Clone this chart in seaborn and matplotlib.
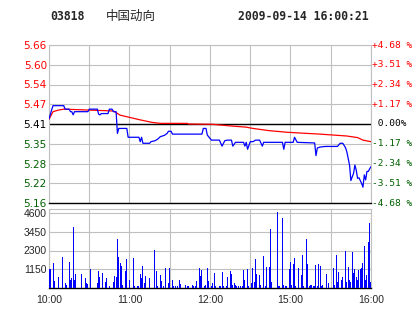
import matplotlib
matplotlib.use("Agg")
import matplotlib.pyplot as plt
import seaborn as sns
import numpy as np
import pandas as pd

# ---------------- data ----------------
stock_code = "03818"
stock_name = "中国动向"
timestamp = "2009-09-14 16:00:21"

prev_close = 5.41
price_labels = ["5.16", "5.22", "5.28", "5.35", "5.41", "5.47", "5.54", "5.60", "5.66"]
pct_labels = ["-4.68 %", "-3.51 %", "-2.34 %", "-1.17 %", " 0.00%",
              "+1.17 %", "+2.34 %", "+3.51 %", "+4.68 %"]
vol_ticks = [1150, 2300, 3450, 4600]
time_ticks = [0, 60, 120, 180, 240]
time_labels = ["10:00", "11:00", "12:00", "15:00", "16:00"]

price_t = [0, 2, 3, 11, 12, 15, 16, 17, 18, 19, 29, 30, 36, 37, 38, 39, 44, 45, 47, 48,
           50, 51, 52, 58, 59, 67, 68, 69, 70, 75, 76, 79, 81, 83, 86, 88, 89, 91, 92, 114,
           115, 117, 118, 121, 127, 129, 131, 133, 136, 137, 139, 145, 146, 147, 148, 150, 152, 154, 157, 159,
           160, 174, 175, 176, 182, 183, 185, 198, 199, 200, 202, 206, 215, 217, 219, 221, 222, 223, 224, 225,
           227, 228, 229, 230, 231, 233, 234, 235, 236, 237, 238, 239, 240]
price_v = [5.426, 5.455, 5.468, 5.468, 5.457, 5.457, 5.449, 5.449, 5.439, 5.449, 5.449, 5.457, 5.457, 5.441, 5.439, 5.443, 5.443, 5.457, 5.457, 5.449,
           5.449, 5.380, 5.396, 5.396, 5.368, 5.368, 5.354, 5.368, 5.349, 5.349, 5.354, 5.357, 5.362, 5.370, 5.374, 5.380, 5.387, 5.387, 5.378, 5.378,
           5.396, 5.396, 5.375, 5.359, 5.359, 5.340, 5.357, 5.359, 5.359, 5.340, 5.352, 5.352, 5.340, 5.352, 5.330, 5.354, 5.354, 5.359, 5.359, 5.340,
           5.352, 5.352, 5.330, 5.352, 5.352, 5.368, 5.352, 5.350, 5.310, 5.334, 5.337, 5.339, 5.339, 5.349, 5.349, 5.335, 5.322, 5.301, 5.280, 5.231,
           5.254, 5.280, 5.264, 5.238, 5.240, 5.222, 5.210, 5.249, 5.233, 5.260, 5.260, 5.268, 5.275]

avg_t = [0, 3, 7, 11, 43, 48, 50, 53, 58, 68, 77, 83, 103, 104, 122, 135, 147, 152, 164, 177,
         189, 202, 212, 222, 230, 234, 240]
avg_v = [5.425, 5.449, 5.454, 5.457, 5.452, 5.451, 5.446, 5.438, 5.433, 5.423, 5.415, 5.412, 5.412, 5.410, 5.409, 5.404, 5.400, 5.396, 5.389, 5.384,
         5.381, 5.378, 5.375, 5.372, 5.367, 5.359, 5.354]

vol_t = [0, 1, 3, 4, 7, 10, 12, 13, 15, 16, 17, 18, 19, 20, 24, 27, 28, 29, 31, 36,
         37, 38, 40, 42, 43, 45, 48, 49, 50, 51, 52, 53, 54, 55, 57, 58, 60, 63, 64, 66,
         67, 68, 69, 70, 71, 72, 75, 79, 80, 81, 83, 84, 85, 87, 89, 90, 92, 93, 94, 96,
         97, 98, 102, 103, 104, 107, 108, 109, 110, 112, 113, 114, 116, 117, 118, 119, 121, 122, 123, 124,
         127, 128, 129, 130, 132, 133, 135, 136, 137, 138, 139, 140, 141, 143, 144, 145, 146, 148, 149, 151,
         152, 153, 154, 155, 157, 158, 160, 161, 162, 164, 165, 166, 170, 171, 172, 174, 175, 176, 177, 179,
         180, 181, 182, 183, 184, 186, 188, 189, 190, 192, 193, 194, 195, 196, 197, 198, 199, 200, 201, 202,
         203, 204, 207, 208, 212, 213, 214, 215, 216, 218, 219, 221, 222, 223, 224, 225, 226, 227, 228, 229,
         230, 231, 232, 233, 234, 235, 236, 237, 238, 239, 240]
vol_v = [1190, 1190, 1550, 450, 700, 1920, 330, 160, 1620, 510, 630, 3760, 510, 880, 880, 630, 330, 270, 1190, 330,
         1060, 700, 940, 390, 630, 140, 390, 760, 700, 3025, 1920, 1550, 1370, 200, 1060, 1800, 510, 1860, 140, 140,
         140, 880, 630, 1370, 330, 760, 630, 2350, 1060, 140, 820, 450, 140, 1250, 330, 1250, 510, 140, 140, 140,
         510, 270, 200, 140, 140, 200, 140, 140, 450, 1250, 760, 1120, 140, 200, 1250, 450, 140, 330, 940, 140,
         140, 140, 1000, 140, 140, 700, 1060, 880, 200, 330, 200, 140, 140, 140, 140, 1120, 510, 1190, 140, 330,
         1250, 390, 1800, 880, 820, 200, 1980, 140, 1310, 1310, 3640, 390, 4680, 140, 140, 4310, 200, 140, 140, 1190,
         1615, 200, 1490, 1860, 140, 1250, 820, 2040, 140, 3025, 1490, 140, 200, 200, 140, 140, 1430, 140, 1490, 1370,
         140, 200, 880, 330, 1250, 200, 2040, 390, 1000, 510, 700, 2290, 390, 1310, 510, 390, 2230, 940, 1190, 700,
         510, 1120, 1190, 1250, 1550, 2600, 510, 820, 2840, 4000, 390]

# ---------------- style ----------------
sns.set_style("white")
plt.rcParams['font.family'] = ['DejaVu Sans', 'Noto Sans CJK SC']

W, H = 414, 314
fig = plt.figure(figsize=(W / 100, H / 100), dpi=100)
fig.patch.set_facecolor("white")

L, R = 49, 371
ax1 = fig.add_axes([L / W, 1 - 203 / H, (R - L) / W, 158 / H])
ax2 = fig.add_axes([L / W, 1 - 288 / H, (R - L) / W, 79 / H])

GRID = "#c0c0c0"
RED = "#ff0000"
GREEN = "#006000"

# ---------------- price panel ----------------
levels = np.linspace(5.16, 5.66, 9)
ax1.set_xlim(0, 240)
ax1.set_ylim(5.16, 5.66)
ax1.set_xticks(range(0, 241, 30))
ax1.set_xticklabels([])
ax1.set_yticks(levels)
ax1.set_yticklabels(price_labels, fontsize=7.5, family="DejaVu Sans")
ax1.tick_params(length=0, pad=1.5)
ax1.grid(True, color=GRID, lw=0.8, zorder=0)
for lbl, lv in zip(ax1.get_yticklabels(), levels):
    if abs(lv - prev_close) < 1e-6:
        lbl.set_color("black")
    elif lv > prev_close:
        lbl.set_color(RED)
    else:
        lbl.set_color(GREEN)

ax1.axhline(prev_close, color="black", lw=1, zorder=2)

pdf = pd.DataFrame({"t": price_t, "p": price_v})
adf = pd.DataFrame({"t": avg_t, "p": avg_v})
sns.lineplot(data=adf, x="t", y="p", ax=ax1, color=RED, lw=0.9, zorder=3)
sns.lineplot(data=pdf, x="t", y="p", ax=ax1, color="#0000ff", lw=0.9, zorder=4)
ax1.set_xlabel("")
ax1.set_ylabel("")

for lbl, lv in zip(pct_labels, levels):
    if lbl.startswith("+"):
        c = RED
    elif lbl.startswith("-"):
        c = GREEN
    else:
        c = "black"
    ax1.text(1.002, lv, lbl, transform=ax1.get_yaxis_transform(), ha="left", va="center",
             fontsize=6.8, family="DejaVu Sans Mono", color=c, clip_on=False)

for side in ["top", "left", "right"]:
    ax1.spines[side].set_color(GRID)
    ax1.spines[side].set_linewidth(0.8)
ax1.spines["bottom"].set_color("black")
ax1.spines["bottom"].set_linewidth(1)

# ---------------- volume panel ----------------
vdf = pd.DataFrame({"t": vol_t, "v": vol_v})
sns.barplot(data=vdf, x="t", y="v", ax=ax2, native_scale=True, orient="x",
            color="#0000ff", saturation=1, width=0.75, errorbar=None, linewidth=0, zorder=3)
ax2.set_xlim(0, 240)
ax2.set_ylim(0, 4600 * 79 / 75)
ax2.set_yticks(vol_ticks)
ax2.set_yticklabels([str(v) for v in vol_ticks], fontsize=7.5, family="Liberation Sans")
ax2.set_xticks(range(0, 241, 30), minor=False)
ax2.set_xticklabels([time_labels[time_ticks.index(t)] if t in time_ticks else "" for t in range(0, 241, 30)],
                    fontsize=7.5, family="Liberation Sans")
ax2.tick_params(length=0, pad=1.5)
ax2.tick_params(axis="x", pad=5)
ax2.grid(True, color=GRID, lw=0.8, zorder=0)
ax2.set_axisbelow(True)
ax2.set_xlabel("")
ax2.set_ylabel("")
for side in ["top", "left", "right"]:
    ax2.spines[side].set_color(GRID)
    ax2.spines[side].set_linewidth(0.8)
ax2.spines["bottom"].set_color("black")
ax2.spines["bottom"].set_linewidth(1)

# ---------------- header ----------------
fig.text(50 / W, 1 - 16 / H, stock_code, ha="left", va="center", fontsize=8.3,
         family="DejaVu Sans Mono", weight="bold")
fig.text(106 / W, 1 - 16 / H, stock_name, ha="left", va="center", fontsize=9,
         family=["Noto Sans CJK SC", "DejaVu Sans"])
fig.text(238 / W, 1 - 16 / H, timestamp, ha="left", va="center", fontsize=8.3,
         family="DejaVu Sans Mono", weight="bold")

fig.savefig("out.png", dpi=100)
